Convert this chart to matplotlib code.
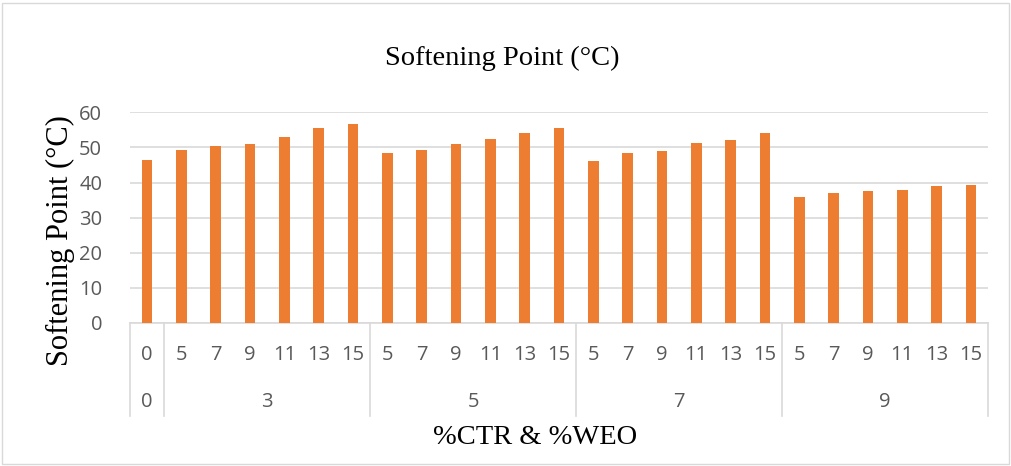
import matplotlib.pyplot as plt
from matplotlib.patches import Rectangle
import numpy as np

# %CTR groups and %WEO sub-levels
ctr_groups = ['0', '3', '5', '7', '9']
weo_levels = [['0'],
              ['5', '7', '9', '11', '13', '15'],
              ['5', '7', '9', '11', '13', '15'],
              ['5', '7', '9', '11', '13', '15'],
              ['5', '7', '9', '11', '13', '15']]
softening = [46.4,
             49.4, 50.5, 51.0, 53.0, 55.4, 56.6,
             48.5, 49.4, 51.0, 52.5, 54.0, 55.4,
             46.0, 48.5, 49.0, 51.4, 52.0, 54.0,
             35.9, 36.9, 37.5, 37.9, 39.0, 39.4]

bar_color = '#ED7D31'
grid_color = '#D9D9D9'
text_color = '#595959'
tick_font = 'Open Sans'
serif = 'Liberation Serif'

fig = plt.figure(figsize=(10.12, 4.66), dpi=100)
ax = fig.add_axes([130 / 1012, 1 - 323 / 466, 858 / 1012, (323 - 112.3) / 466])

x = np.arange(len(softening))
ax.bar(x, softening, width=0.31, color=bar_color, zorder=3)
ax.set_xlim(-0.5, len(softening) - 0.5)
ax.set_ylim(0, 60)
ax.set_yticks(range(0, 61, 10))
ax.yaxis.grid(True, color=grid_color, linewidth=1.2, zorder=0)
for s in ['top', 'right', 'left']:
    ax.spines[s].set_visible(False)
ax.spines['bottom'].set_color(grid_color)
ax.spines['bottom'].set_linewidth(1.2)
ax.tick_params(axis='y', length=0, pad=20, labelsize=14.5, labelcolor=text_color)
for lb in ax.get_yticklabels():
    lb.set_fontfamily(tick_font)
ax.set_xticks([])

# multi-level category axis
trans = ax.get_xaxis_transform()
row1 = -0.15
row2 = -0.375
bottom = -0.44
pos = 0
edges = [-0.5]
for g, subs in zip(ctr_groups, weo_levels):
    for s in subs:
        ax.text(pos, row1, s, transform=trans, ha='center', va='center',
                fontsize=14.5, color=text_color, family=tick_font)
        pos += 1
    mid = pos - len(subs) / 2 - 0.5
    ax.text(mid, row2, g, transform=trans, ha='center', va='center',
            fontsize=14.5, color=text_color, family=tick_font)
    edges.append(pos - 0.5)
for e in edges:
    ax.plot([e, e], [0, bottom], transform=trans, color=grid_color,
            linewidth=1.2, clip_on=False)

ax.set_ylabel('Softening Point (°C)', fontsize=22, family=serif)
ax.yaxis.set_label_coords(-0.064, 0.39)
fig.text(502 / 1012, 1 - 58 / 466, 'Softening Point (°C)', ha='center', va='center',
         fontsize=20.5, family=serif)
fig.text(535 / 1012, 1 - 438 / 466, '%CTR & %WEO', ha='center', va='center',
         fontsize=20.5, family=serif)

fig.patches.append(Rectangle((2 / 1012, 2 / 466), 1007 / 1012, 461 / 466,
                             transform=fig.transFigure, fill=False,
                             edgecolor='#D9D9D9', linewidth=1))

fig.savefig('out.png', dpi=100)
